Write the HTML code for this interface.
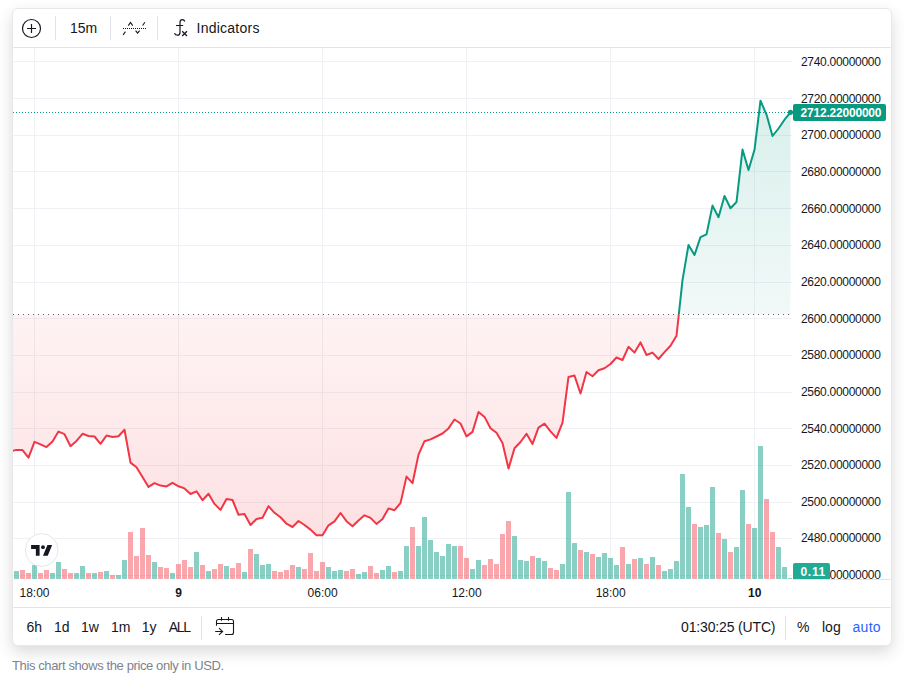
<!DOCTYPE html>
<html><head><meta charset="utf-8"><title>Chart</title>
<style>
html,body{margin:0;padding:0;background:#fff;}
body{width:905px;height:683px;position:relative;overflow:hidden;font-family:"Liberation Sans",sans-serif;color:#131722;}
#card{position:absolute;left:12px;top:8px;width:878px;height:636px;border:1px solid #e8e8ea;border-radius:6px;background:#fff;box-shadow:0 6px 16px rgba(0,0,0,0.15);}
#chart{position:absolute;left:0;top:0;}
.hl{position:absolute;left:13px;width:878px;height:1px;background:#e0e3eb;}
.vs{position:absolute;width:1px;background:#e0e3eb;}
.tb{position:absolute;font-size:14px;line-height:20px;height:20px;white-space:nowrap;}
.pl{position:absolute;left:801px;font-size:12px;line-height:16px;height:16px;letter-spacing:-0.3px;white-space:nowrap;}
.tl{position:absolute;top:585px;width:60px;text-align:center;font-size:12px;line-height:16px;white-space:nowrap;}
.tl.b{font-weight:bold;}
.tag{position:absolute;color:#fff;font-weight:bold;font-size:12px;line-height:17px;letter-spacing:-0.2px;background:#089981;border-radius:2px;white-space:nowrap;box-sizing:border-box;padding-left:7.5px;padding-top:1px;}
#cap{position:absolute;left:12px;top:658px;font-size:13px;line-height:16px;letter-spacing:-0.39px;color:#7f828c;white-space:nowrap;}
svg.ic{position:absolute;overflow:visible;}
#logo{position:absolute;left:24px;top:533px;width:33px;height:33px;border-radius:50%;background:#fff;border:1px solid #e0e3eb;box-sizing:content-box;}
</style></head><body>
<div id="card"></div>
<svg id="chart" width="905" height="683" viewBox="0 0 905 683">
<defs>
<clipPath id="cp"><rect x="13" y="48" width="779" height="531"/></clipPath>
<clipPath id="ctop"><rect x="13" y="48" width="779" height="266.5"/></clipPath>
<clipPath id="cbot"><rect x="13" y="314.5" width="779" height="264.5"/></clipPath>
<linearGradient id="gtop" gradientUnits="userSpaceOnUse" x1="0" y1="48" x2="0" y2="314.5">
<stop offset="0" stop-color="#089981" stop-opacity="0.18"/><stop offset="1" stop-color="#089981" stop-opacity="0.055"/></linearGradient>
<linearGradient id="gbot" gradientUnits="userSpaceOnUse" x1="0" y1="314.5" x2="0" y2="579">
<stop offset="0" stop-color="#f23645" stop-opacity="0.06"/><stop offset="1" stop-color="#f23645" stop-opacity="0.17"/></linearGradient>
</defs>
<g stroke="#f0f1f4" stroke-width="1" shape-rendering="crispEdges"><line x1="13" x2="792" y1="61.5" y2="61.5"/><line x1="13" x2="792" y1="98.5" y2="98.5"/><line x1="13" x2="792" y1="135.5" y2="135.5"/><line x1="13" x2="792" y1="171.5" y2="171.5"/><line x1="13" x2="792" y1="208.5" y2="208.5"/><line x1="13" x2="792" y1="245.5" y2="245.5"/><line x1="13" x2="792" y1="282.5" y2="282.5"/><line x1="13" x2="792" y1="318.5" y2="318.5"/><line x1="13" x2="792" y1="355.5" y2="355.5"/><line x1="13" x2="792" y1="392.5" y2="392.5"/><line x1="13" x2="792" y1="428.5" y2="428.5"/><line x1="13" x2="792" y1="465.5" y2="465.5"/><line x1="13" x2="792" y1="502.5" y2="502.5"/><line x1="13" x2="792" y1="538.5" y2="538.5"/><line x1="13" x2="792" y1="575.5" y2="575.5"/><line x1="34.5" x2="34.5" y1="48" y2="579"/><line x1="178.5" x2="178.5" y1="48" y2="579"/><line x1="322.5" x2="322.5" y1="48" y2="579"/><line x1="466.5" x2="466.5" y1="48" y2="579"/><line x1="610.5" x2="610.5" y1="48" y2="579"/><line x1="754.5" x2="754.5" y1="48" y2="579"/></g>
<g clip-path="url(#cp)" shape-rendering="crispEdges"><rect x="14" y="571" width="5" height="8" fill="rgba(8,153,129,0.475)"/><rect x="20" y="570" width="5" height="9" fill="rgba(242,54,69,0.445)"/><rect x="26" y="573" width="5" height="6" fill="rgba(242,54,69,0.445)"/><rect x="32" y="565" width="5" height="14" fill="rgba(8,153,129,0.475)"/><rect x="38" y="573" width="5" height="6" fill="rgba(242,54,69,0.445)"/><rect x="44" y="570" width="5" height="9" fill="rgba(242,54,69,0.445)"/><rect x="50" y="573" width="5" height="6" fill="rgba(8,153,129,0.475)"/><rect x="56" y="562" width="5" height="17" fill="rgba(8,153,129,0.475)"/><rect x="62" y="569" width="5" height="10" fill="rgba(242,54,69,0.445)"/><rect x="68" y="573" width="5" height="6" fill="rgba(242,54,69,0.445)"/><rect x="74" y="573" width="5" height="6" fill="rgba(8,153,129,0.475)"/><rect x="80" y="566" width="5" height="13" fill="rgba(8,153,129,0.475)"/><rect x="86" y="573" width="5" height="6" fill="rgba(242,54,69,0.445)"/><rect x="92" y="573" width="5" height="6" fill="rgba(8,153,129,0.475)"/><rect x="98" y="572" width="5" height="7" fill="rgba(242,54,69,0.445)"/><rect x="104" y="571" width="5" height="8" fill="rgba(8,153,129,0.475)"/><rect x="110" y="575" width="5" height="4" fill="rgba(242,54,69,0.445)"/><rect x="116" y="575" width="5" height="4" fill="rgba(8,153,129,0.475)"/><rect x="122" y="560" width="5" height="19" fill="rgba(8,153,129,0.475)"/><rect x="128" y="532" width="5" height="47" fill="rgba(242,54,69,0.445)"/><rect x="134" y="556" width="5" height="23" fill="rgba(242,54,69,0.445)"/><rect x="140" y="528" width="5" height="51" fill="rgba(242,54,69,0.445)"/><rect x="146" y="555" width="5" height="24" fill="rgba(242,54,69,0.445)"/><rect x="152" y="562" width="5" height="17" fill="rgba(8,153,129,0.475)"/><rect x="158" y="567" width="5" height="12" fill="rgba(242,54,69,0.445)"/><rect x="164" y="568" width="5" height="11" fill="rgba(242,54,69,0.445)"/><rect x="170" y="573" width="5" height="6" fill="rgba(8,153,129,0.475)"/><rect x="176" y="564" width="5" height="15" fill="rgba(242,54,69,0.445)"/><rect x="182" y="560" width="5" height="19" fill="rgba(242,54,69,0.445)"/><rect x="188" y="567" width="5" height="12" fill="rgba(242,54,69,0.445)"/><rect x="194" y="552" width="5" height="27" fill="rgba(8,153,129,0.475)"/><rect x="200" y="565" width="5" height="14" fill="rgba(242,54,69,0.445)"/><rect x="206" y="571" width="5" height="8" fill="rgba(8,153,129,0.475)"/><rect x="212" y="569" width="5" height="10" fill="rgba(242,54,69,0.445)"/><rect x="218" y="564" width="5" height="15" fill="rgba(242,54,69,0.445)"/><rect x="224" y="566" width="5" height="13" fill="rgba(8,153,129,0.475)"/><rect x="230" y="568" width="5" height="11" fill="rgba(242,54,69,0.445)"/><rect x="236" y="563" width="5" height="16" fill="rgba(242,54,69,0.445)"/><rect x="242" y="572" width="5" height="7" fill="rgba(8,153,129,0.475)"/><rect x="248" y="549" width="5" height="30" fill="rgba(242,54,69,0.445)"/><rect x="254" y="554" width="5" height="25" fill="rgba(8,153,129,0.475)"/><rect x="260" y="565" width="5" height="14" fill="rgba(8,153,129,0.475)"/><rect x="266" y="564" width="5" height="15" fill="rgba(8,153,129,0.475)"/><rect x="272" y="571" width="5" height="8" fill="rgba(242,54,69,0.445)"/><rect x="278" y="572" width="5" height="7" fill="rgba(242,54,69,0.445)"/><rect x="284" y="570" width="5" height="9" fill="rgba(242,54,69,0.445)"/><rect x="290" y="565" width="5" height="14" fill="rgba(242,54,69,0.445)"/><rect x="296" y="567" width="5" height="12" fill="rgba(8,153,129,0.475)"/><rect x="302" y="569" width="5" height="10" fill="rgba(242,54,69,0.445)"/><rect x="308" y="553" width="5" height="26" fill="rgba(242,54,69,0.445)"/><rect x="314" y="571" width="5" height="8" fill="rgba(242,54,69,0.445)"/><rect x="320" y="562" width="5" height="17" fill="rgba(242,54,69,0.445)"/><rect x="326" y="567" width="5" height="12" fill="rgba(8,153,129,0.475)"/><rect x="332" y="571" width="5" height="8" fill="rgba(8,153,129,0.475)"/><rect x="338" y="570" width="5" height="9" fill="rgba(8,153,129,0.475)"/><rect x="344" y="571" width="5" height="8" fill="rgba(242,54,69,0.445)"/><rect x="350" y="569" width="5" height="10" fill="rgba(242,54,69,0.445)"/><rect x="356" y="574" width="5" height="5" fill="rgba(8,153,129,0.475)"/><rect x="362" y="572" width="5" height="7" fill="rgba(8,153,129,0.475)"/><rect x="368" y="566" width="5" height="13" fill="rgba(242,54,69,0.445)"/><rect x="374" y="573" width="5" height="6" fill="rgba(242,54,69,0.445)"/><rect x="380" y="570" width="5" height="9" fill="rgba(8,153,129,0.475)"/><rect x="386" y="566" width="5" height="13" fill="rgba(8,153,129,0.475)"/><rect x="392" y="572" width="5" height="7" fill="rgba(242,54,69,0.445)"/><rect x="398" y="571" width="5" height="8" fill="rgba(8,153,129,0.475)"/><rect x="404" y="546" width="5" height="33" fill="rgba(8,153,129,0.475)"/><rect x="410" y="527" width="5" height="52" fill="rgba(242,54,69,0.445)"/><rect x="416" y="546" width="5" height="33" fill="rgba(8,153,129,0.475)"/><rect x="422" y="517" width="5" height="62" fill="rgba(8,153,129,0.475)"/><rect x="428" y="540" width="5" height="39" fill="rgba(8,153,129,0.475)"/><rect x="434" y="552" width="5" height="27" fill="rgba(8,153,129,0.475)"/><rect x="440" y="556" width="5" height="23" fill="rgba(8,153,129,0.475)"/><rect x="446" y="544" width="5" height="35" fill="rgba(8,153,129,0.475)"/><rect x="452" y="546" width="5" height="33" fill="rgba(8,153,129,0.475)"/><rect x="458" y="546" width="5" height="33" fill="rgba(242,54,69,0.445)"/><rect x="464" y="558" width="5" height="21" fill="rgba(242,54,69,0.445)"/><rect x="470" y="569" width="5" height="10" fill="rgba(8,153,129,0.475)"/><rect x="476" y="560" width="5" height="19" fill="rgba(8,153,129,0.475)"/><rect x="482" y="565" width="5" height="14" fill="rgba(242,54,69,0.445)"/><rect x="488" y="559" width="5" height="20" fill="rgba(242,54,69,0.445)"/><rect x="494" y="564" width="5" height="15" fill="rgba(242,54,69,0.445)"/><rect x="500" y="534" width="5" height="45" fill="rgba(242,54,69,0.445)"/><rect x="506" y="521" width="5" height="58" fill="rgba(242,54,69,0.445)"/><rect x="512" y="536" width="5" height="43" fill="rgba(8,153,129,0.475)"/><rect x="518" y="560" width="5" height="19" fill="rgba(8,153,129,0.475)"/><rect x="524" y="561" width="5" height="18" fill="rgba(8,153,129,0.475)"/><rect x="530" y="556" width="5" height="23" fill="rgba(242,54,69,0.445)"/><rect x="536" y="558" width="5" height="21" fill="rgba(8,153,129,0.475)"/><rect x="542" y="561" width="5" height="18" fill="rgba(8,153,129,0.475)"/><rect x="548" y="568" width="5" height="11" fill="rgba(242,54,69,0.445)"/><rect x="554" y="570" width="5" height="9" fill="rgba(242,54,69,0.445)"/><rect x="560" y="564" width="5" height="15" fill="rgba(8,153,129,0.475)"/><rect x="566" y="492" width="5" height="87" fill="rgba(8,153,129,0.475)"/><rect x="572" y="543" width="5" height="36" fill="rgba(8,153,129,0.475)"/><rect x="578" y="550" width="5" height="29" fill="rgba(242,54,69,0.445)"/><rect x="584" y="552" width="5" height="27" fill="rgba(8,153,129,0.475)"/><rect x="590" y="554" width="5" height="25" fill="rgba(242,54,69,0.445)"/><rect x="596" y="557" width="5" height="22" fill="rgba(8,153,129,0.475)"/><rect x="602" y="553" width="5" height="26" fill="rgba(8,153,129,0.475)"/><rect x="608" y="558" width="5" height="21" fill="rgba(8,153,129,0.475)"/><rect x="614" y="565" width="5" height="14" fill="rgba(8,153,129,0.475)"/><rect x="620" y="547" width="5" height="32" fill="rgba(242,54,69,0.445)"/><rect x="626" y="564" width="5" height="15" fill="rgba(8,153,129,0.475)"/><rect x="632" y="559" width="5" height="20" fill="rgba(242,54,69,0.445)"/><rect x="638" y="558" width="5" height="21" fill="rgba(8,153,129,0.475)"/><rect x="644" y="564" width="5" height="15" fill="rgba(242,54,69,0.445)"/><rect x="650" y="557" width="5" height="22" fill="rgba(8,153,129,0.475)"/><rect x="656" y="565" width="5" height="14" fill="rgba(242,54,69,0.445)"/><rect x="662" y="571" width="5" height="8" fill="rgba(8,153,129,0.475)"/><rect x="668" y="569" width="5" height="10" fill="rgba(8,153,129,0.475)"/><rect x="674" y="561" width="5" height="18" fill="rgba(8,153,129,0.475)"/><rect x="680" y="474" width="5" height="105" fill="rgba(8,153,129,0.475)"/><rect x="686" y="507" width="5" height="72" fill="rgba(8,153,129,0.475)"/><rect x="692" y="524" width="5" height="55" fill="rgba(242,54,69,0.445)"/><rect x="698" y="527" width="5" height="52" fill="rgba(8,153,129,0.475)"/><rect x="704" y="525" width="5" height="54" fill="rgba(8,153,129,0.475)"/><rect x="710" y="487" width="5" height="92" fill="rgba(8,153,129,0.475)"/><rect x="716" y="533" width="5" height="46" fill="rgba(242,54,69,0.445)"/><rect x="722" y="539" width="5" height="40" fill="rgba(8,153,129,0.475)"/><rect x="728" y="552" width="5" height="27" fill="rgba(242,54,69,0.445)"/><rect x="734" y="547" width="5" height="32" fill="rgba(8,153,129,0.475)"/><rect x="740" y="490" width="5" height="89" fill="rgba(8,153,129,0.475)"/><rect x="746" y="524" width="5" height="55" fill="rgba(242,54,69,0.445)"/><rect x="752" y="528" width="5" height="51" fill="rgba(8,153,129,0.475)"/><rect x="758" y="446" width="5" height="133" fill="rgba(8,153,129,0.475)"/><rect x="764" y="499" width="5" height="80" fill="rgba(242,54,69,0.445)"/><rect x="770" y="532" width="5" height="47" fill="rgba(242,54,69,0.445)"/><rect x="776" y="547" width="5" height="32" fill="rgba(8,153,129,0.475)"/><rect x="782" y="567" width="5" height="12" fill="rgba(8,153,129,0.475)"/><rect x="788" y="578" width="5" height="1" fill="rgba(8,153,129,0.475)"/></g>
<path d="M10.5,314.5 L10.5,451.5 L16.5,449.9 L22.5,450.1 L28.5,457.7 L34.5,441.9 L40.5,444.4 L46.5,447.1 L52.5,441.5 L58.5,431.6 L64.5,434.2 L70.5,446.2 L76.5,440.9 L82.5,433.8 L88.5,436.0 L94.5,436.5 L100.5,443.8 L106.5,435.6 L112.5,436.9 L118.5,436.2 L124.5,429.8 L130.5,462.6 L136.5,467.2 L142.5,477.1 L148.5,486.9 L154.5,483.1 L160.5,485.6 L166.5,486.4 L172.5,482.8 L178.5,486.3 L184.5,488.4 L190.5,494.0 L196.5,491.3 L202.5,500.2 L208.5,493.7 L214.5,503.9 L220.5,509.9 L226.5,499.0 L232.5,500.0 L238.5,514.8 L244.5,514.1 L250.5,525.0 L256.5,519.0 L262.5,517.7 L268.5,506.2 L274.5,512.8 L280.5,517.3 L286.5,523.7 L292.5,527.0 L298.5,521.0 L304.5,525.0 L310.5,529.6 L316.5,535.3 L322.5,535.3 L328.5,525.3 L334.5,521.4 L340.5,513.0 L346.5,521.2 L352.5,526.2 L358.5,520.6 L364.5,515.3 L370.5,517.9 L376.5,523.9 L382.5,519.0 L388.5,508.4 L394.5,510.2 L400.5,503.1 L406.5,476.6 L412.5,483.2 L418.5,454.6 L424.5,441.2 L430.5,439.4 L436.5,436.5 L442.5,433.5 L448.5,428.4 L454.5,419.5 L460.5,423.5 L466.5,436.4 L472.5,431.9 L478.5,412.0 L484.5,416.9 L490.5,428.2 L496.5,432.8 L502.5,443.0 L508.5,468.6 L514.5,448.3 L520.5,442.0 L526.5,433.8 L532.5,443.9 L538.5,427.7 L544.5,423.7 L550.5,431.3 L556.5,437.9 L562.5,422.6 L568.5,376.9 L574.5,375.6 L580.5,393.5 L586.5,372.0 L592.5,376.2 L598.5,370.3 L604.5,368.3 L610.5,364.0 L616.5,357.5 L622.5,360.0 L628.5,346.8 L634.5,352.6 L640.5,342.4 L646.5,355.0 L652.5,352.6 L658.5,359.0 L664.5,352.1 L670.5,345.7 L676.5,335.8 L682.5,280.2 L688.5,245.0 L694.5,255.0 L700.5,237.1 L706.5,234.4 L712.5,205.6 L718.5,217.2 L724.5,196.0 L730.5,208.3 L736.5,202.0 L742.5,149.6 L748.5,170.0 L754.5,149.8 L760.5,100.7 L766.5,114.6 L772.5,136.0 L778.5,128.5 L784.5,119.7 L790.5,112.3 L790.5,314.5 Z" fill="url(#gtop)" clip-path="url(#ctop)"/>
<path d="M10.5,314.5 L10.5,451.5 L16.5,449.9 L22.5,450.1 L28.5,457.7 L34.5,441.9 L40.5,444.4 L46.5,447.1 L52.5,441.5 L58.5,431.6 L64.5,434.2 L70.5,446.2 L76.5,440.9 L82.5,433.8 L88.5,436.0 L94.5,436.5 L100.5,443.8 L106.5,435.6 L112.5,436.9 L118.5,436.2 L124.5,429.8 L130.5,462.6 L136.5,467.2 L142.5,477.1 L148.5,486.9 L154.5,483.1 L160.5,485.6 L166.5,486.4 L172.5,482.8 L178.5,486.3 L184.5,488.4 L190.5,494.0 L196.5,491.3 L202.5,500.2 L208.5,493.7 L214.5,503.9 L220.5,509.9 L226.5,499.0 L232.5,500.0 L238.5,514.8 L244.5,514.1 L250.5,525.0 L256.5,519.0 L262.5,517.7 L268.5,506.2 L274.5,512.8 L280.5,517.3 L286.5,523.7 L292.5,527.0 L298.5,521.0 L304.5,525.0 L310.5,529.6 L316.5,535.3 L322.5,535.3 L328.5,525.3 L334.5,521.4 L340.5,513.0 L346.5,521.2 L352.5,526.2 L358.5,520.6 L364.5,515.3 L370.5,517.9 L376.5,523.9 L382.5,519.0 L388.5,508.4 L394.5,510.2 L400.5,503.1 L406.5,476.6 L412.5,483.2 L418.5,454.6 L424.5,441.2 L430.5,439.4 L436.5,436.5 L442.5,433.5 L448.5,428.4 L454.5,419.5 L460.5,423.5 L466.5,436.4 L472.5,431.9 L478.5,412.0 L484.5,416.9 L490.5,428.2 L496.5,432.8 L502.5,443.0 L508.5,468.6 L514.5,448.3 L520.5,442.0 L526.5,433.8 L532.5,443.9 L538.5,427.7 L544.5,423.7 L550.5,431.3 L556.5,437.9 L562.5,422.6 L568.5,376.9 L574.5,375.6 L580.5,393.5 L586.5,372.0 L592.5,376.2 L598.5,370.3 L604.5,368.3 L610.5,364.0 L616.5,357.5 L622.5,360.0 L628.5,346.8 L634.5,352.6 L640.5,342.4 L646.5,355.0 L652.5,352.6 L658.5,359.0 L664.5,352.1 L670.5,345.7 L676.5,335.8 L682.5,280.2 L688.5,245.0 L694.5,255.0 L700.5,237.1 L706.5,234.4 L712.5,205.6 L718.5,217.2 L724.5,196.0 L730.5,208.3 L736.5,202.0 L742.5,149.6 L748.5,170.0 L754.5,149.8 L760.5,100.7 L766.5,114.6 L772.5,136.0 L778.5,128.5 L784.5,119.7 L790.5,112.3 L790.5,314.5 Z" fill="url(#gbot)" clip-path="url(#cbot)"/>
<line x1="13" x2="792" y1="314.5" y2="314.5" stroke="#5d606b" stroke-width="1" stroke-dasharray="1 4" shape-rendering="crispEdges"/>
<line x1="13" x2="792" y1="112.5" y2="112.5" stroke="#089981" stroke-width="1" stroke-dasharray="1 2" shape-rendering="crispEdges"/>
<polyline points="10.5,451.5 16.5,449.9 22.5,450.1 28.5,457.7 34.5,441.9 40.5,444.4 46.5,447.1 52.5,441.5 58.5,431.6 64.5,434.2 70.5,446.2 76.5,440.9 82.5,433.8 88.5,436.0 94.5,436.5 100.5,443.8 106.5,435.6 112.5,436.9 118.5,436.2 124.5,429.8 130.5,462.6 136.5,467.2 142.5,477.1 148.5,486.9 154.5,483.1 160.5,485.6 166.5,486.4 172.5,482.8 178.5,486.3 184.5,488.4 190.5,494.0 196.5,491.3 202.5,500.2 208.5,493.7 214.5,503.9 220.5,509.9 226.5,499.0 232.5,500.0 238.5,514.8 244.5,514.1 250.5,525.0 256.5,519.0 262.5,517.7 268.5,506.2 274.5,512.8 280.5,517.3 286.5,523.7 292.5,527.0 298.5,521.0 304.5,525.0 310.5,529.6 316.5,535.3 322.5,535.3 328.5,525.3 334.5,521.4 340.5,513.0 346.5,521.2 352.5,526.2 358.5,520.6 364.5,515.3 370.5,517.9 376.5,523.9 382.5,519.0 388.5,508.4 394.5,510.2 400.5,503.1 406.5,476.6 412.5,483.2 418.5,454.6 424.5,441.2 430.5,439.4 436.5,436.5 442.5,433.5 448.5,428.4 454.5,419.5 460.5,423.5 466.5,436.4 472.5,431.9 478.5,412.0 484.5,416.9 490.5,428.2 496.5,432.8 502.5,443.0 508.5,468.6 514.5,448.3 520.5,442.0 526.5,433.8 532.5,443.9 538.5,427.7 544.5,423.7 550.5,431.3 556.5,437.9 562.5,422.6 568.5,376.9 574.5,375.6 580.5,393.5 586.5,372.0 592.5,376.2 598.5,370.3 604.5,368.3 610.5,364.0 616.5,357.5 622.5,360.0 628.5,346.8 634.5,352.6 640.5,342.4 646.5,355.0 652.5,352.6 658.5,359.0 664.5,352.1 670.5,345.7 676.5,335.8 682.5,280.2 688.5,245.0 694.5,255.0 700.5,237.1 706.5,234.4 712.5,205.6 718.5,217.2 724.5,196.0 730.5,208.3 736.5,202.0 742.5,149.6 748.5,170.0 754.5,149.8 760.5,100.7 766.5,114.6 772.5,136.0 778.5,128.5 784.5,119.7 790.5,112.3" fill="none" stroke="#089981" stroke-width="2" stroke-linejoin="round" stroke-linecap="round" clip-path="url(#ctop)"/>
<polyline points="10.5,451.5 16.5,449.9 22.5,450.1 28.5,457.7 34.5,441.9 40.5,444.4 46.5,447.1 52.5,441.5 58.5,431.6 64.5,434.2 70.5,446.2 76.5,440.9 82.5,433.8 88.5,436.0 94.5,436.5 100.5,443.8 106.5,435.6 112.5,436.9 118.5,436.2 124.5,429.8 130.5,462.6 136.5,467.2 142.5,477.1 148.5,486.9 154.5,483.1 160.5,485.6 166.5,486.4 172.5,482.8 178.5,486.3 184.5,488.4 190.5,494.0 196.5,491.3 202.5,500.2 208.5,493.7 214.5,503.9 220.5,509.9 226.5,499.0 232.5,500.0 238.5,514.8 244.5,514.1 250.5,525.0 256.5,519.0 262.5,517.7 268.5,506.2 274.5,512.8 280.5,517.3 286.5,523.7 292.5,527.0 298.5,521.0 304.5,525.0 310.5,529.6 316.5,535.3 322.5,535.3 328.5,525.3 334.5,521.4 340.5,513.0 346.5,521.2 352.5,526.2 358.5,520.6 364.5,515.3 370.5,517.9 376.5,523.9 382.5,519.0 388.5,508.4 394.5,510.2 400.5,503.1 406.5,476.6 412.5,483.2 418.5,454.6 424.5,441.2 430.5,439.4 436.5,436.5 442.5,433.5 448.5,428.4 454.5,419.5 460.5,423.5 466.5,436.4 472.5,431.9 478.5,412.0 484.5,416.9 490.5,428.2 496.5,432.8 502.5,443.0 508.5,468.6 514.5,448.3 520.5,442.0 526.5,433.8 532.5,443.9 538.5,427.7 544.5,423.7 550.5,431.3 556.5,437.9 562.5,422.6 568.5,376.9 574.5,375.6 580.5,393.5 586.5,372.0 592.5,376.2 598.5,370.3 604.5,368.3 610.5,364.0 616.5,357.5 622.5,360.0 628.5,346.8 634.5,352.6 640.5,342.4 646.5,355.0 652.5,352.6 658.5,359.0 664.5,352.1 670.5,345.7 676.5,335.8 682.5,280.2 688.5,245.0 694.5,255.0 700.5,237.1 706.5,234.4 712.5,205.6 718.5,217.2 724.5,196.0 730.5,208.3 736.5,202.0 742.5,149.6 748.5,170.0 754.5,149.8 760.5,100.7 766.5,114.6 772.5,136.0 778.5,128.5 784.5,119.7 790.5,112.3" fill="none" stroke="#f23645" stroke-width="2" stroke-linejoin="round" stroke-linecap="round" clip-path="url(#cbot)"/>
<circle cx="790.5" cy="112.3" r="2.6" fill="#089981"/>
</svg>
<div class="hl" style="top:47px"></div>
<div class="hl" style="top:579px;left:793px;width:98px"></div>
<div class="hl" style="top:607px"></div>

<!-- top toolbar -->
<svg class="ic" style="left:21px;top:18px" width="21" height="21" viewBox="0 0 21 21"><circle cx="10.5" cy="10.5" r="9" fill="none" stroke="#131722" stroke-width="1.2"/><path d="M10.5 6v9M6 10.5h9" stroke="#131722" stroke-width="1.2" fill="none"/></svg>
<div class="vs" style="left:55px;top:16px;height:24px"></div>
<div class="tb" style="left:70px;top:18px">15m</div>
<div class="vs" style="left:110px;top:16px;height:24px"></div>
<svg class="ic" style="left:0;top:0" width="300" height="48" viewBox="0 0 300 48"><path d="M123 28.500H146.500" stroke="#131722" stroke-width="1" stroke-dasharray="1 1" fill="none" shape-rendering="crispEdges"/><path d="M123.100 34.800L125.400 31.700M128.300 25.600L130.500 22.500L132.700 25.600M135.600 30.600L137.600 33.200L139.600 30.600M142.600 25.500L144.900 22.200" stroke="#131722" stroke-width="1.100" fill="none"/></svg>
<div class="vs" style="left:157px;top:16px;height:24px"></div>
<svg class="ic" style="left:0;top:0" width="300" height="48" viewBox="0 0 300 48"><path d="M184.800 21.500C184.300 20.200 183.400 19.600 182.400 19.600C180.800 19.600 180 20.600 180 22.400V32.400C180 34.200 179 35.200 177.400 35.200C176 35.200 175 34.500 174.500 33.200M176 25.500H183.200" stroke="#131722" stroke-width="1.200" fill="none"/><path d="M182.200 31.300L187 36M187 31.300L182.200 36" stroke="#131722" stroke-width="1.250" fill="none"/></svg>
<div class="tb" style="left:196.5px;top:18px;letter-spacing:0.25px">Indicators</div>

<!-- price axis -->
<div class="pl" style="top:54px">2740.00000000</div>
<div class="pl" style="top:91px">2720.00000000</div>
<div class="pl" style="top:127px">2700.00000000</div>
<div class="pl" style="top:164px">2680.00000000</div>
<div class="pl" style="top:201px">2660.00000000</div>
<div class="pl" style="top:237px">2640.00000000</div>
<div class="pl" style="top:274px">2620.00000000</div>
<div class="pl" style="top:311px">2600.00000000</div>
<div class="pl" style="top:347px">2580.00000000</div>
<div class="pl" style="top:384px">2560.00000000</div>
<div class="pl" style="top:421px">2540.00000000</div>
<div class="pl" style="top:457px">2520.00000000</div>
<div class="pl" style="top:494px">2500.00000000</div>
<div class="pl" style="top:530px">2480.00000000</div>
<div class="pl" style="top:567px">2460.00000000</div>
<div class="tag" style="left:793px;top:104px;width:93px;height:17px">2712.22000000</div>
<div class="tag" style="left:793px;top:563px;width:37px;height:16px;line-height:16px;letter-spacing:0.7px;background:#22ab94;border-radius:2px 2px 0 0">0.11</div>

<!-- time axis -->
<div class="tl" style="left:4.5px">18:00</div>
<div class="tl b" style="left:148.6px">9</div>
<div class="tl" style="left:292.6px">06:00</div>
<div class="tl" style="left:436.7px">12:00</div>
<div class="tl" style="left:580.7px">18:00</div>
<div class="tl b" style="left:724.8px">10</div>

<!-- logo -->
<svg class="ic" style="left:0;top:520px" width="80" height="60" viewBox="0 520 80 60"><circle cx="41.650" cy="550" r="16.400" fill="#fff" stroke="#e4e6ea" stroke-width="1"/><g transform="translate(31.100 542.700) scale(0.594)"><path d="M14.300 22H8V10.500H0V4h14.300v18zM28 22h-8l7.500-18h8L28 22z" fill="#131722"/><circle cx="20" cy="7.500" r="3.200" fill="#131722"/></g></svg>

<!-- bottom toolbar -->
<div class="tb" style="left:26.5px;top:617px">6h</div>
<div class="tb" style="left:54px;top:617px">1d</div>
<div class="tb" style="left:81px;top:617px">1w</div>
<div class="tb" style="left:111px;top:617px">1m</div>
<div class="tb" style="left:141.700px;top:617px">1y</div>
<div class="tb" style="left:168.700px;top:617px;letter-spacing:-1.3px">ALL</div>
<div class="vs" style="left:201px;top:616px;height:24px"></div>
<svg class="ic" style="left:200px;top:610px" width="50" height="35" viewBox="200 610 50 35"><path d="M216.500 625.700V621.500a2 2 0 0 1 2-2H231.500a2 2 0 0 1 2 2V632.500a2 2 0 0 1-2 2H225.100M216.500 623.500H233.500M221.500 616.900V620.800M228.500 616.900V620.800M215.200 631.500H222.400M219 628.200L222.600 631.500L219 634.800" stroke="#131722" stroke-width="1.100" fill="none"/></svg>
<div class="tb" style="left:681px;top:617px;letter-spacing:-0.15px">01:30:25 (UTC)</div>
<div class="vs" style="left:785px;top:616px;height:24px"></div>
<div class="tb" style="left:797px;top:617px">%</div>
<div class="tb" style="left:822px;top:617px">log</div>
<div class="tb" style="left:852.500px;top:617px;color:#2962ff;letter-spacing:0.3px">auto</div>

<div id="cap">This chart shows the price only in USD.</div>
</body></html>
